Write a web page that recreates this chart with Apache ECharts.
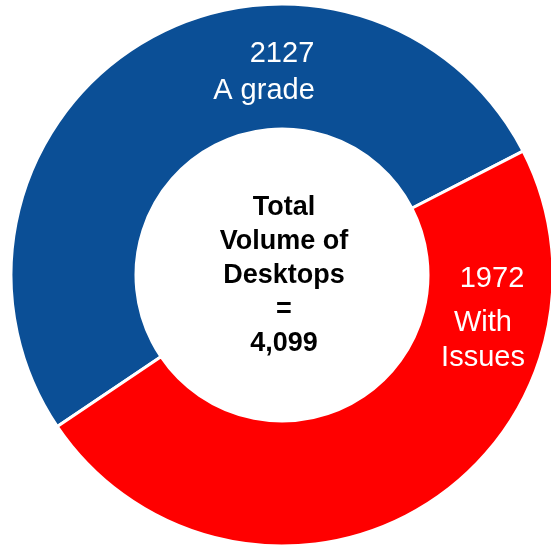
<!DOCTYPE html>
<html>
<head>
<meta charset="utf-8">
<script src="https://cdn.jsdelivr.net/npm/echarts@6/dist/echarts.min.js"></script>
<style>
  html, body { margin: 0; padding: 0; background: #fff; }
  #chart { width: 551px; height: 548px; }
</style>
</head>
<body>
<div id="chart"></div>
<script>
// donut: desktops by grade
var categories = ['A grade', 'With Issues'];
var values = [2127, 1972];
var colors = ['#0b4f96', '#ff0000'];
var centerLines = ['Total', 'Volume of', 'Desktops', '='];

var total = values.reduce(function (a, b) { return a + b; }, 0);
var font = 'Liberation Sans, Arial, sans-serif';

var chart = echarts.init(document.getElementById('chart'));

function txt(text, x, y, size, color, weight, lh) {
  return {
    type: 'text',
    x: x,
    y: y,
    z: 100,
    silent: true,
    style: {
      text: text,
      fill: color,
      font: (weight || 'normal') + ' ' + size + 'px ' + font,
      align: 'center',
      verticalAlign: 'middle',
      lineHeight: lh || size
    }
  };
}

chart.setOption({
  animation: false,
  backgroundColor: '#fff',
  color: colors,
  series: [{
    type: 'pie',
    center: [282, 275],
    radius: [146, 271],
    startAngle: 214,
    clockwise: true,
    label: { show: false },
    labelLine: { show: false },
    itemStyle: { borderColor: '#fff', borderWidth: 3 },
    data: categories.map(function (c, i) {
      return { name: c, value: values[i] };
    })
  }],
  graphic: [
    // blue slice label
    txt(String(values[0]), 282, 54, 29, '#fff'),
    txt(categories[0], 264, 91, 29, '#fff'),
    // red slice label
    txt(String(values[1]), 492, 279, 29, '#fff'),
    txt(categories[1].split(' ')[0], 483, 323, 29, '#fff'),
    txt(categories[1].split(' ')[1], 483, 358, 29, '#fff'),
    // center total
    txt(centerLines.concat([total.toLocaleString('en-US')]).join('\n'), 284, 276, 27, '#000', 'bold', 34)
  ]
});
</script>
</body>
</html>
